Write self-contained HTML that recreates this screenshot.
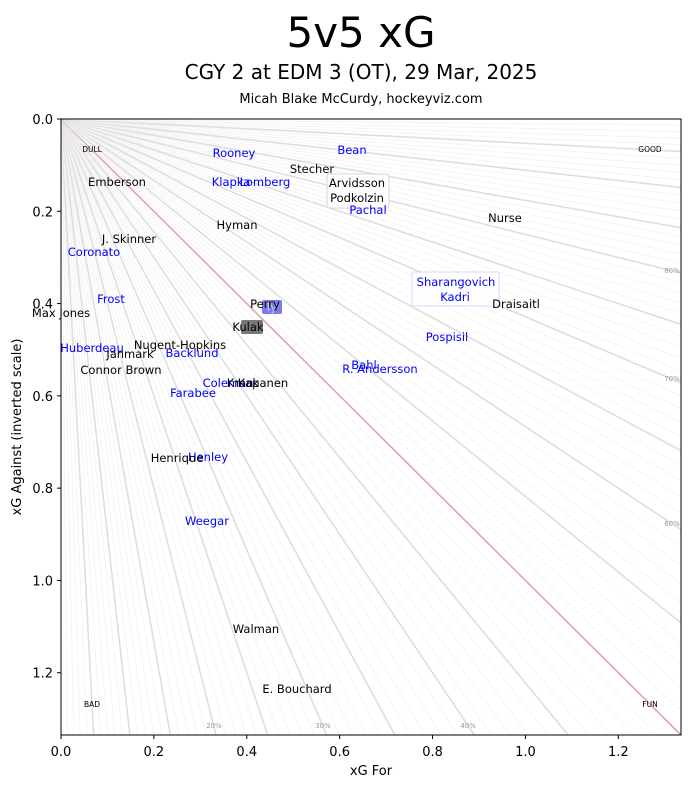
<!DOCTYPE html>
<html><head><meta charset="utf-8"><style>
html,body{margin:0;padding:0;background:#fff;width:691px;height:788px;overflow:hidden;position:relative;}
svg{position:absolute;left:0;top:0;display:block;font-family:"DejaVu Sans","Liberation Sans",sans-serif;}
</style></head><body>
<svg id="s" width="691" height="788" viewBox="0 0 691 788" xmlns="http://www.w3.org/2000/svg" overflow="hidden">
<rect width="691" height="788" fill="#fff"/>
<text x="361" y="47" font-size="42" text-anchor="middle">5v5 xG</text>
<text x="361" y="79" font-size="20" text-anchor="middle">CGY 2 at EDM 3 (OT), 29 Mar, 2025</text>
<text x="361" y="103" font-size="13" text-anchor="middle">Micah Blake McCurdy, hockeyviz.com</text>
<g id="lines"></g>
<g font-size="7" fill="#999">
<text x="672" y="273" text-anchor="middle">80%</text>
<text x="672" y="381" text-anchor="middle">70%</text>
<text x="672" y="526" text-anchor="middle">60%</text>
<text x="214" y="728" text-anchor="middle">20%</text>
<text x="323" y="728" text-anchor="middle">30%</text>
<text x="468" y="728" text-anchor="middle">40%</text>
</g>
<g font-size="7.5" fill="#000" text-anchor="middle">
<text x="92" y="152">DULL</text><text x="650" y="152">GOOD</text>
<text x="92" y="707">BAD</text><text x="650" y="707">FUN</text>
</g>
<rect x="327" y="174" width="62" height="34" rx="2" fill="#fff" fill-opacity="0.8" stroke="#ccc" stroke-width="0.8"/>
<rect x="412" y="272" width="87" height="34" rx="2" fill="#fff" fill-opacity="0.8" stroke="#ccf" stroke-width="0.8"/>
<rect x="262" y="300" width="20" height="14" rx="2" fill="#7b7bf0"/>
<rect x="241" y="320" width="22" height="14" rx="2" fill="#777"/>
<g font-size="11.5" text-anchor="middle">
<g fill="#0000ff">
<text x="234" y="157">Rooney</text><text x="352" y="154">Bean</text>
<text x="231" y="186">Klapka</text><text x="265" y="186">Lomberg</text>
<text x="368" y="214">Pachal</text><text x="94" y="256">Coronato</text>
<text x="456" y="286">Sharangovich</text><text x="455" y="301">Kadri</text>
<text x="111" y="303">Frost</text><text x="271" y="311" fill="#ccd">Ty</text>
<text x="447" y="341">Pospisil</text><text x="92" y="352">Huberdeau</text>
<text x="192" y="357">Backlund</text><text x="364" y="369">Bahl</text>
<text x="380" y="373">R. Andersson</text><text x="228" y="387">Coleman</text>
<text x="193" y="397">Farabee</text><text x="208" y="461">Henley</text>
<text x="207" y="525">Weegar</text>
</g>
<g fill="#000">
<text x="312" y="173">Stecher</text><text x="117" y="186">Emberson</text>
<text x="357" y="187">Arvidsson</text><text x="357" y="202">Podkolzin</text>
<text x="505" y="222">Nurse</text><text x="237" y="229">Hyman</text>
<text x="129" y="243">J. Skinner</text><text x="516" y="308">Draisaitl</text>
<text x="265" y="308">Perry</text><text x="61" y="317">Max Jones</text>
<text x="248" y="331">Kulak</text><text x="180" y="349">Nugent-Hopkins</text>
<text x="130" y="358">Janmark</text><text x="121" y="374">Connor Brown</text>
<text x="243" y="387">Kmak</text><text x="263" y="387">Kapanen</text>
<text x="177" y="462">Henrique</text><text x="256" y="633">Walman</text>
<text x="297" y="693">E. Bouchard</text>
</g></g>
<rect x="61" y="119" width="620" height="616" fill="none" stroke="#000" stroke-width="1"/>
<g id="ticks" stroke="#000"></g>
<g font-size="13" fill="#000">
<g id="tl"></g>
<text x="371" y="775" text-anchor="middle">xG For</text>
<text transform="translate(21,427) rotate(-90)" text-anchor="middle">xG Against (inverted scale)</text>
</g>
</svg>
<script>
var ns="http://www.w3.org/2000/svg",X0=61,Y0=119,W=620,H=616,M=1.335;
function px(x){return X0+x/M*W}function py(y){return Y0+y/M*H}
var g=document.getElementById('lines');
function ln(x1,y1,x2,y2,c,w,p){var l=document.createElementNS(ns,'line');l.setAttribute('x1',x1);l.setAttribute('y1',y1);l.setAttribute('x2',x2);l.setAttribute('y2',y2);l.setAttribute('stroke',c);l.setAttribute('stroke-width',w);p.appendChild(l);}
for(var i=1;i<100;i++){var p=i/100,x=M,y=x*(1-p)/p;if(y>M){y=M;x=y*p/(1-p);}
var c,w;if(i==50){c='#dca8a8';w=1.6}else if(i%5==0){c='#dedede';w=1.6}else{c='#f2f2f2';w=0.8}
ln(X0,Y0,px(x),py(y),c,w,g);}
var t=document.getElementById('ticks'),tl=document.getElementById('tl');
for(var k=0;k<=6;k++){var v=k*0.2,xx=px(v),yy=py(v);
ln(xx,735,xx,739,'#000',1,t);ln(57,yy,61,yy,'#000',1,t);
var a=document.createElementNS(ns,'text');a.setAttribute('x',xx);a.setAttribute('y',756);a.setAttribute('text-anchor','middle');a.textContent=v.toFixed(1);tl.appendChild(a);
var b=document.createElementNS(ns,'text');b.setAttribute('x',53);b.setAttribute('y',yy+5);b.setAttribute('text-anchor','end');b.textContent=v.toFixed(1);tl.appendChild(b);}
</script>
</body></html>
